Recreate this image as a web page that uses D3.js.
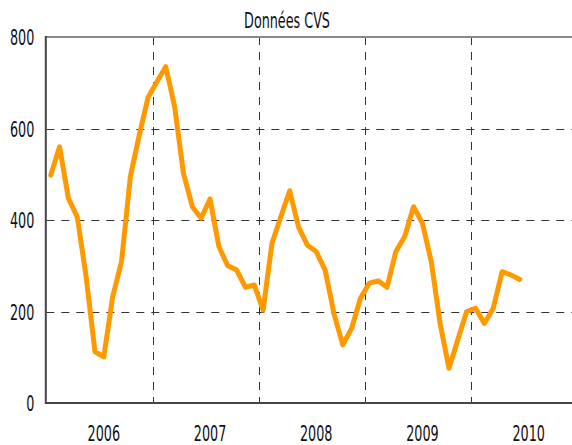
<!DOCTYPE html>
<html>
<head>
<meta charset="utf-8">
<script src="https://cdn.jsdelivr.net/npm/d3@7"></script>
<style>
  html, body { margin: 0; padding: 0; background: #fff; overflow: hidden; }
  svg { display: block; }
  text { font-family: "DejaVu Sans", sans-serif; fill: #111; }
</style>
</head>
<body>
<svg id="chart" width="572" height="445"></svg>
<script>
const title = "Données CVS";
const years = [2006, 2007, 2008, 2009, 2010];
const yTicks = [0, 200, 400, 600, 800];
// Monthly values, Jan 2006 – Jun 2010
const values2006 = [498, 560, 447, 407, 276, 112, 101, 232, 309, 495, 585, 668];
const values2007 = [702, 735, 648, 502, 429, 404, 446, 342, 300, 291, 253, 258];
const values2008 = [203, 349, 407, 464, 385, 345, 331, 291, 196, 127, 163, 229];
const values2009 = [262, 267, 253, 331, 364, 429, 393, 309, 174, 76, 138, 200];
const values2010 = [207, 174, 207, 287, 280, 270];

const series = [].concat(values2006, values2007, values2008, values2009, values2010)
  .map((v, i) => ({ m: i + 0.5, v }));

const W = 572, H = 445;
const mLeft = 46.3, mTop = 37, mBottom = 403;
const monthW = 8.85;
const sx = 0.58, fs = 22;

const svg = d3.select("#chart");
const x = d3.scaleLinear().domain([0, 60]).range([mLeft, mLeft + 60 * monthW]);
const y = d3.scaleLinear().domain([0, 800]).range([mBottom, mTop]);

// horizontal grid
svg.append("g").selectAll("line")
  .data(yTicks.filter(t => t > 0 && t < 800))
  .join("line")
  .attr("x1", mLeft).attr("x2", W)
  .attr("y1", d => Math.round(y(d)) + 0.5).attr("y2", d => Math.round(y(d)) + 0.5)
  .attr("stroke", "#333").attr("stroke-width", 1).attr("stroke-dasharray", "8,7");

// vertical grid (year boundaries)
svg.append("g").selectAll("line")
  .data(years.slice(1))
  .join("line")
  .attr("x1", d => Math.round(x((d - 2006) * 12)) + 0.5)
  .attr("x2", d => Math.round(x((d - 2006) * 12)) + 0.5)
  .attr("y1", mTop).attr("y2", mBottom)
  .attr("stroke", "#333").attr("stroke-width", 1).attr("stroke-dasharray", "8,7");

// frame
svg.append("line").attr("x1", mLeft - 1).attr("x2", W).attr("y1", mTop).attr("y2", mTop)
  .attr("stroke", "#888").attr("stroke-width", 2);
svg.append("line").attr("x1", mLeft - 1).attr("x2", W).attr("y1", mBottom).attr("y2", mBottom)
  .attr("stroke", "#444").attr("stroke-width", 2);
svg.append("line").attr("x1", mLeft - 0.5).attr("x2", mLeft - 0.5).attr("y1", mTop - 1).attr("y2", mBottom + 1)
  .attr("stroke", "#444").attr("stroke-width", 2);

// y axis labels
const yAxis = svg.append("g")
  .attr("transform", `translate(${mLeft},0)`)
  .call(d3.axisLeft(y).tickValues(yTicks).tickSize(0).tickPadding(0));
yAxis.select(".domain").remove();
yAxis.selectAll("text")
  .attr("x", null).attr("dy", null)
  .attr("font-size", fs)
  .attr("font-family", "DejaVu Sans, sans-serif")
  .attr("fill", "#111")
  .attr("text-anchor", "end")
  .attr("dominant-baseline", "central")
  .attr("transform", `translate(-12,0) scale(${sx},1)`);

// x labels (centred on the July point of each year)
svg.append("g").selectAll("text")
  .data(years)
  .join("text")
  .attr("transform", d => `translate(${x((d - 2006) * 12 + 6.5)},441) scale(${sx},1)`)
  .attr("text-anchor", "middle")
  .attr("font-size", fs)
  .text(d => d);

// title
svg.append("text")
  .attr("transform", `translate(287,28) scale(${sx},1)`)
  .attr("text-anchor", "middle")
  .attr("font-size", fs)
  .text(title);

// series line
const line = d3.line().x(d => x(d.m)).y(d => y(d.v));
svg.append("path")
  .datum(series)
  .attr("d", line)
  .attr("fill", "none")
  .attr("stroke", "#FF9900")
  .attr("stroke-width", 5)
  .attr("stroke-linejoin", "round")
  .attr("stroke-linecap", "round");
</script>
</body>
</html>
